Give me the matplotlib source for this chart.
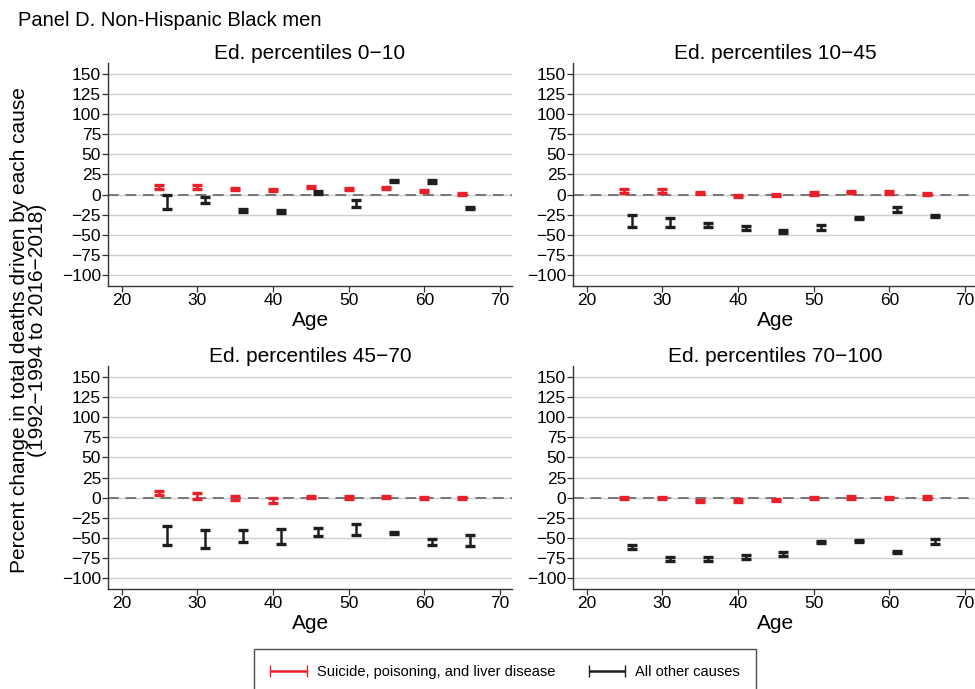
import numpy as np
import matplotlib.pyplot as plt
from matplotlib.legend_handler import HandlerErrorbar
from matplotlib.container import ErrorbarContainer

plt.rcParams['font.family'] = ['Liberation Sans', 'DejaVu Sans']

ages = [25, 30, 35, 40, 45, 50, 55, 60, 65]
titles = ['Ed. percentiles 0\u221210', 'Ed. percentiles 10\u221245',
          'Ed. percentiles 45\u221270', 'Ed. percentiles 70\u2212100']

# suicide, poisoning and liver disease: point estimate and half-width of CI
despair_est = [
    [9, 9.5, 7, 6, 9.5, 7, 8.5, 4.5, 1],
    [5, 5, 2, -1.5, -0.5, 1.5, 3.5, 2.5, 0.8],
    [5.5, 2.5, -0.5, -3.3, 0.4, 0, 0.8, 0, -0.8],
    [-0.4, -0.4, -4, -3.8, -3, -0.8, 0, -0.8, 0],
]
despair_ci = [
    [2.5, 2, 1.5, 1.5, 1.5, 1.5, 1.5, 1.5, 1.5],
    [2.5, 2.5, 1.5, 1.5, 1.5, 1.5, 1.5, 1.5, 1.5],
    [2.7, 3.7, 2.9, 3, 1.5, 1.5, 1.2, 1.2, 1.2],
    [1.2, 1.5, 1.5, 1.5, 1.5, 1.5, 1.5, 1.5, 1.5],
]

# all other causes
other_est = [
    [-9, -7, -19.5, -21, 2.5, -11, 17, 16.5, -17],
    [-33, -35, -38, -42, -46, -41, -29, -18.5, -27],
    [-47, -51.5, -48, -48.5, -43, -40, -44, -55.5, -53.5],
    [-61.5, -77, -76.5, -74, -70, -55.5, -54, -67.5, -55],
]
other_ci = [
    [9, 3.8, 2, 1.5, 2, 4.2, 1, 1.5, 1],
    [7, 5.5, 3, 2.5, 1.5, 3, 1, 2.7, 1.5],
    [12, 11, 8, 9.5, 5.5, 7, 1, 4, 6.5],
    [2, 2.5, 2.5, 3, 2.5, 1, 1, 1, 2.8],
]

red = '#e8202a'
black = '#1e1e1e'

fig = plt.figure(figsize=(9.75, 6.89), dpi=100)

W, H = 0.4144, 0.3237
positions = [(0.1108, 0.5849), (0.5877, 0.5849), (0.1108, 0.1451), (0.5877, 0.1451)]

for i, (l, b) in enumerate(positions):
    ax = fig.add_axes([l, b, W, H])
    ax.set_xlim(18.2, 71.6)
    ax.set_ylim(-114, 164)
    ax.set_yticks(np.arange(-100, 151, 25))
    ax.set_xticks([20, 30, 40, 50, 60, 70])
    ax.grid(axis='y', color='#cfcfcf', lw=1.0)
    ax.grid(axis='x', visible=False)
    ax.set_axisbelow(True)
    ax.axhline(0, color='#777777', lw=1.4, ls=(0, (5.5, 3.5)), zorder=1.5)
    for s in ['top', 'right']:
        ax.spines[s].set_visible(False)
    for s in ['left', 'bottom']:
        ax.spines[s].set_color('#333333')
        ax.spines[s].set_linewidth(1.0)
    ax.tick_params(labelsize=12.5, length=4, width=0.9, color='#333333', pad=1)
    ax.set_title(titles[i], fontsize=15, pad=2)
    ax.set_xlabel('Age', fontsize=15, labelpad=2)

    ax.errorbar(ages, despair_est[i], yerr=despair_ci[i], fmt='none',
                ecolor=red, elinewidth=1.8, capsize=3.4, capthick=2.4, zorder=3)
    ax.errorbar(np.array(ages) + 1, other_est[i], yerr=other_ci[i], fmt='none',
                ecolor=black, elinewidth=1.8, capsize=3.4, capthick=2.4, zorder=3)

fig.text(0.018, 0.97, 'Panel D. Non-Hispanic Black men', fontsize=14.5, va='center')
fig.text(0.029, 0.521, 'Percent change in total deaths driven by each cause\n(1992\u22121994 to 2016\u22122018)',
         rotation=90, fontsize=15, ha='center', va='center', linespacing=0.95)

# horizontal error-bar handles for the legend
h1 = ax.errorbar([np.nan], [np.nan], xerr=[1], fmt='none', ecolor=red, elinewidth=1.8, capsize=4)
h2 = ax.errorbar([np.nan], [np.nan], xerr=[1], fmt='none', ecolor=black, elinewidth=1.8, capsize=4)
leg = fig.legend([h1, h2], ['Suicide, poisoning, and liver disease', 'All other causes'],
                 handler_map={ErrorbarContainer: HandlerErrorbar(xerr_size=1.25)},
                 loc='upper center', bbox_to_anchor=(0.518, 1 - 649 / 689), ncol=2,
                 fontsize=10.5, frameon=True, fancybox=False, edgecolor='#222222',
                 handlelength=2.5, handletextpad=0.7, columnspacing=2.3,
                 borderpad=1.1, borderaxespad=0)
leg.get_frame().set_linewidth(1.0)

fig.savefig('out.png', dpi=100)
